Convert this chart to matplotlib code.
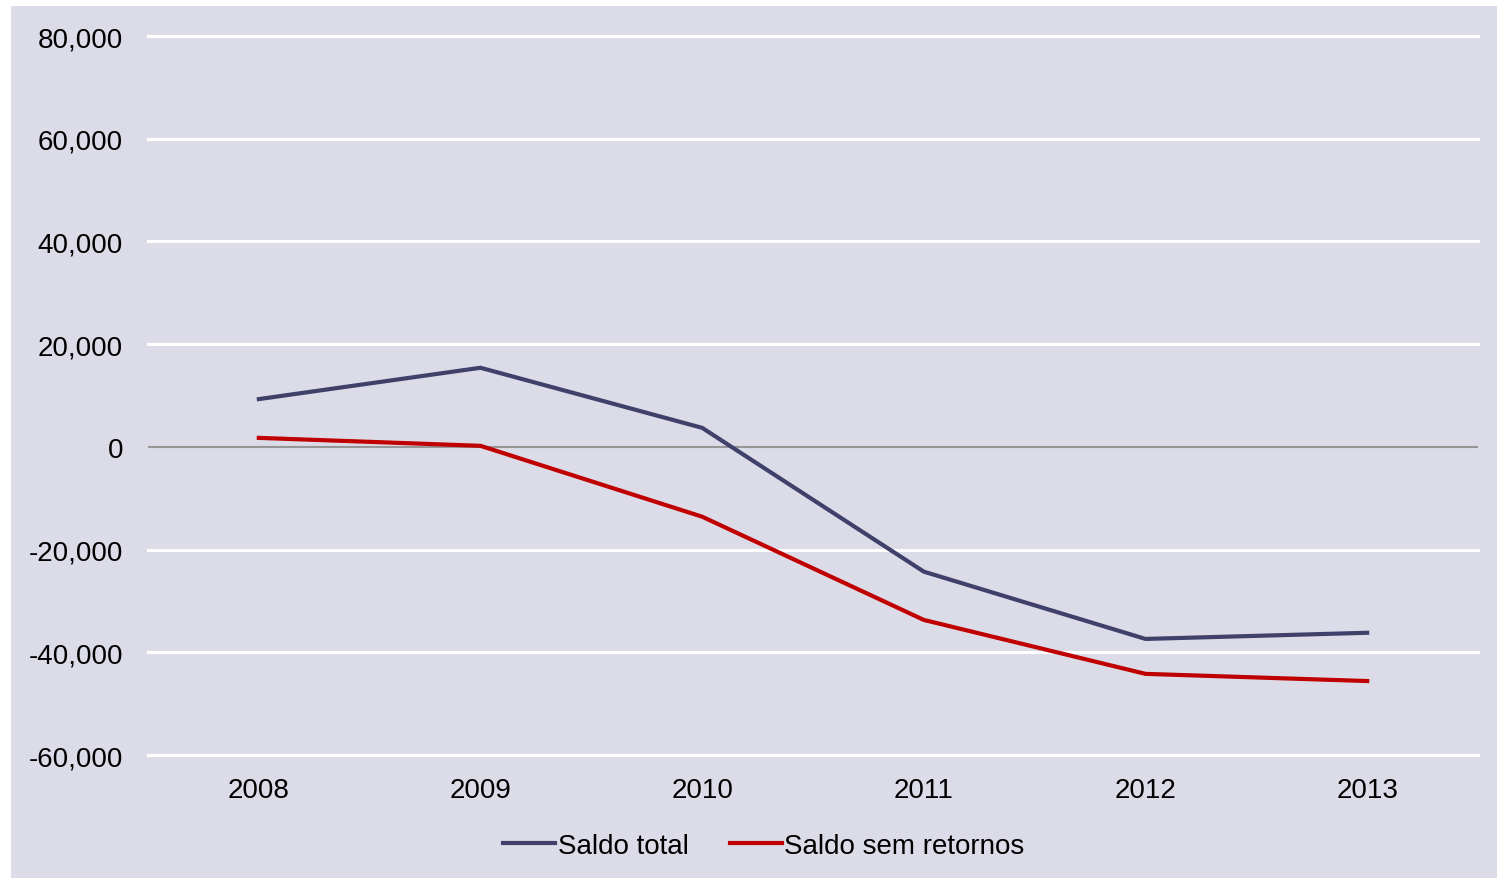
import matplotlib.pyplot as plt
from matplotlib.ticker import FuncFormatter

years = ['2008', '2009', '2010', '2011', '2012', '2013']
saldo_total = [9300, 15400, 3700, -24300, -37400, -36200]
saldo_sem_retornos = [1750, 200, -13600, -33700, -44200, -45600]

bg = '#dcdce8'
plt.rcParams['font.family'] = ['Liberation Sans', 'DejaVu Sans']

fig = plt.figure(figsize=(14.97, 8.79), dpi=100)
fig.patch.set_facecolor('white')
# lavender panel behind everything
fig.patches.append(plt.Rectangle((11 / 1497, 0), 1 - 11 / 1497, 1 - 7 / 879,
                                 transform=fig.transFigure, facecolor=bg,
                                 edgecolor='none', zorder=-1))

ax = fig.add_axes([148 / 1497, 1 - 756 / 879, (1478 - 148) / 1497, (756 - 37) / 879])
ax.set_facecolor(bg)

x = range(len(years))
ax.plot(x, saldo_total, color='#3f416b', lw=3, label='Saldo total', zorder=3)
ax.plot(x, saldo_sem_retornos, color='#c00000', lw=3, label='Saldo sem retornos', zorder=3)

ax.set_ylim(-60000, 80000)
ax.set_xlim(-0.5, len(years) - 0.5)
ax.set_yticks(range(-60000, 80001, 20000))
ax.yaxis.set_major_formatter(FuncFormatter(lambda v, p: f'{int(v):,}'))
ax.set_xticks(list(x))
ax.set_xticklabels(years)

for v in range(-60000, 80001, 20000):
    if v == 0:
        ax.axhline(v, color='#969696', lw=1.5, zorder=2)
    else:
        ax.axhline(v, color='white', lw=2.2, zorder=1, clip_on=False)

for s in ax.spines.values():
    s.set_visible(False)
ax.tick_params(length=0, labelsize=20, colors='black')
ax.tick_params(axis='y', pad=18)
ax.tick_params(axis='x', pad=16)

fig.legend(loc='center', bbox_to_anchor=(764 / 1497, 1 - 847 / 879), ncol=2,
           frameon=False, fontsize=20, handlelength=1.85, handletextpad=0.1,
           columnspacing=1.5)

fig.savefig('out.png', dpi=100)
